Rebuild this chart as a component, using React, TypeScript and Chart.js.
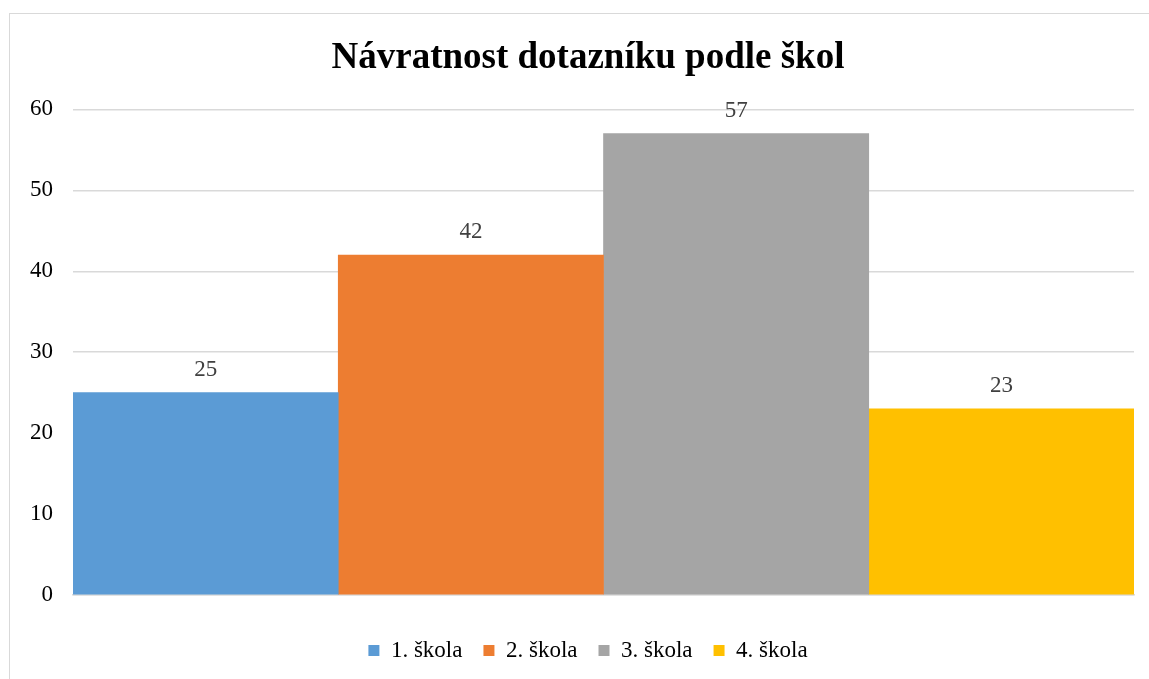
import React, { useEffect, useRef } from "react";
import { Chart, registerables } from "chart.js";

Chart.register(...registerables);

const categories = [""];
const seriesNames = ["1. škola", "2. škola", "3. škola", "4. škola"];
const seriesValues = [25, 42, 57, 23];
const seriesColors = ["#5B9BD5", "#ED7D31", "#A5A5A5", "#FFC000"];
const yTicks = [0, 10, 20, 30, 40, 50, 60];
const titleText = "Návratnost dotazníku podle škol";

const FONT = "'Liberation Serif', 'Times New Roman', serif";

const valueLabels = {
  id: "valueLabels",
  afterDatasetsDraw(chart: any) {
    const ctx = chart.ctx;
    ctx.save();
    ctx.font = `23px ${FONT}`;
    ctx.fillStyle = "#404040";
    ctx.textAlign = "center";
    ctx.textBaseline = "middle";
    chart.data.datasets.forEach((ds: any, i: number) => {
      const meta = chart.getDatasetMeta(i);
      meta.data.forEach((el: any, j: number) => {
        ctx.fillText(String(ds.data[j]), el.x, el.y - 23);
      });
    });
    ctx.restore();
  },
};

export default function App() {
  const ref = useRef<HTMLCanvasElement | null>(null);
  useEffect(() => {
    if (!ref.current) return;
    const chart = new Chart(ref.current, {
      type: "bar",
      data: {
        labels: categories,
        datasets: seriesNames.map((name, i) => ({
          label: name,
          data: [seriesValues[i]],
          backgroundColor: seriesColors[i],
          borderWidth: 0,
          barPercentage: 1,
          categoryPercentage: 1,
        })),
      },
      options: {
        responsive: false,
        animation: false,
        maintainAspectRatio: false,
        layout: { padding: { left: 0, right: 0, top: 0, bottom: 8 } },
        plugins: {
          tooltip: { enabled: false },
          title: {
            display: true,
            text: titleText,
            color: "#000",
            font: { family: FONT, size: 37, weight: "bold" },
            padding: { top: 22, bottom: 29 },
          },
          legend: {
            position: "bottom",
            labels: {
              color: "#000",
              font: { family: FONT, size: 23 },
              boxWidth: 11,
              boxHeight: 11,
              padding: 21,
            },
          },
        },
        scales: {
          x: {
            display: true,
            grid: { display: false, drawTicks: false },
            border: { display: true, color: "#d9d9d9", width: 1.5 },
            ticks: { display: false },
            afterFit: (s: any) => {
              s.height = 23;
            },
          },
          y: {
            min: 0,
            max: 60,
            afterBuildTicks: (s: any) => {
              s.ticks = yTicks.map((v) => ({ value: v }));
            },
            afterFit: (s: any) => {
              s.width = 63;
            },
            grid: { color: "#d9d9d9", lineWidth: 1.5, drawTicks: false },
            border: { display: false },
            ticks: {
              color: "#000",
              font: { family: FONT, size: 23 },
              padding: 20,
            },
          },
          yRight: {
            position: "right",
            display: true,
            min: 0,
            max: 60,
            grid: { display: false, drawTicks: false },
            border: { display: false },
            ticks: { display: false },
            afterFit: (s: any) => {
              s.width = 32;
            },
          },
        },
      },
      plugins: [valueLabels],
    });
    return () => chart.destroy();
  }, []);

  return (
    <div
      style={{
        position: "fixed",
        left: 0,
        top: 0,
        width: 1149,
        height: 679,
        overflow: "hidden",
        background: "#fff",
      }}
    >
      <div
        style={{
          position: "absolute",
          left: 9,
          top: 13,
          width: 1200,
          height: 720,
          borderTop: "1.5px solid #d9d9d9",
          borderLeft: "1.5px solid #d9d9d9",
        }}
      >
        <canvas ref={ref} width={1156} height={666} style={{ display: "block" }} />
      </div>
    </div>
  );
}
